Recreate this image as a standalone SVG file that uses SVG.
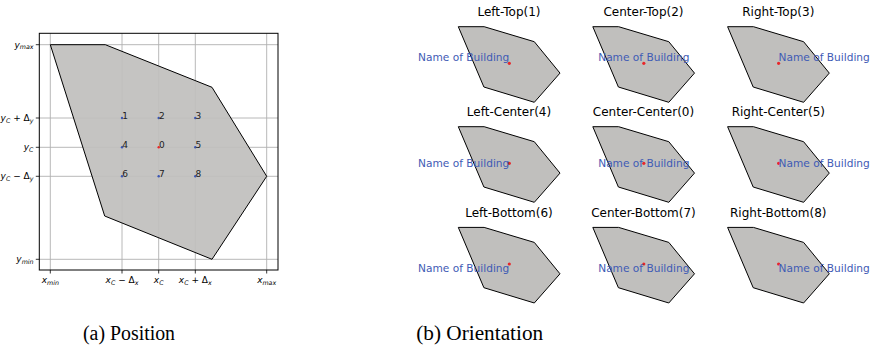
<svg xmlns="http://www.w3.org/2000/svg" xmlns:xlink="http://www.w3.org/1999/xlink" width="874" height="351" viewBox="0 0 874 351">
<style>
.grid{stroke:#b0b0b0;stroke-width:0.9;fill:none}
.bld{fill:#c0bfbd;stroke:#000;stroke-width:1;stroke-linejoin:miter}
.tick{stroke:#000;stroke-width:0.8}
.math{font-family:"DejaVu Sans",sans-serif;font-style:italic;font-size:9px;fill:#000}
.num{font-family:"DejaVu Sans",sans-serif;font-size:9px;fill:#222}
.ttl{font-family:"DejaVu Sans",sans-serif;font-size:12px;fill:#000;text-anchor:middle}
.name{font-family:"DejaVu Sans",sans-serif;font-size:10.6px;fill:#3f5bb5}
.cap{font-family:"Liberation Serif",serif;font-size:20px;fill:#000;text-anchor:middle}
.bdot{fill:#3a55b4}
.rdot{fill:#e8262a}
</style>
<defs>
<polygon id="shape" class="bld" points="0,0 25.85,0 76,15 101.7,46.4 76,75.6 25.6,60.3"/>
</defs>
<rect width="874" height="351" fill="#fff"/>

<!-- (a) Position -->
<g id="position">
<g id="grid">
<line class="grid" x1="50.3" y1="33.3" x2="50.3" y2="270"/>
<line class="grid" x1="122" y1="33.3" x2="122" y2="270"/>
<line class="grid" x1="158.7" y1="33.3" x2="158.7" y2="270"/>
<line class="grid" x1="195.3" y1="33.3" x2="195.3" y2="270"/>
<line class="grid" x1="266.7" y1="33.3" x2="266.7" y2="270"/>
<line class="grid" x1="39.3" y1="44.7" x2="278" y2="44.7"/>
<line class="grid" x1="39.3" y1="118" x2="278" y2="118"/>
<line class="grid" x1="39.3" y1="147.3" x2="278" y2="147.3"/>
<line class="grid" x1="39.3" y1="176.3" x2="278" y2="176.3"/>
<line class="grid" x1="39.3" y1="259.3" x2="278" y2="259.3"/>
</g>
<g id="building">
<polygon class="bld" fill-opacity="0.92" points="50.3,44.7 105.3,44.7 212,87.3 266.7,176.3 212,259.3 104.7,216"/>
</g>
<rect x="39.3" y="33.3" width="238.7" height="236.7" fill="none" stroke="#000" stroke-width="1"/>
<g id="ticks">
<line class="tick" x1="35.8" y1="44.7" x2="39.3" y2="44.7"/>
<line class="tick" x1="35.8" y1="118" x2="39.3" y2="118"/>
<line class="tick" x1="35.8" y1="147.3" x2="39.3" y2="147.3"/>
<line class="tick" x1="35.8" y1="176.3" x2="39.3" y2="176.3"/>
<line class="tick" x1="35.8" y1="259.3" x2="39.3" y2="259.3"/>
<line class="tick" x1="50.3" y1="270" x2="50.3" y2="273.5"/>
<line class="tick" x1="122" y1="270" x2="122" y2="273.5"/>
<line class="tick" x1="158.7" y1="270" x2="158.7" y2="273.5"/>
<line class="tick" x1="195.3" y1="270" x2="195.3" y2="273.5"/>
<line class="tick" x1="266.7" y1="270" x2="266.7" y2="273.5"/>
</g>
<g id="ylabels" text-anchor="end">
<text class="math" x="33.5" y="47.5">y<tspan font-size="6.3" dy="1.8">max</tspan></text>
<text class="math" x="33.5" y="120.8">y<tspan font-size="6.3" dy="1.8">C</tspan><tspan dy="-1.8" font-style="normal"> + Δ</tspan><tspan font-size="6.3" dy="1.8">y</tspan></text>
<text class="math" x="33.5" y="150.1">y<tspan font-size="6.3" dy="1.8">C</tspan></text>
<text class="math" x="33.5" y="179.1">y<tspan font-size="6.3" dy="1.8">C</tspan><tspan dy="-1.8" font-style="normal"> − Δ</tspan><tspan font-size="6.3" dy="1.8">y</tspan></text>
<text class="math" x="33.5" y="262.1">y<tspan font-size="6.3" dy="1.8">min</tspan></text>
</g>
<g id="xlabels" text-anchor="middle">
<text class="math" x="50.3" y="283">x<tspan font-size="6.3" dy="1.8">min</tspan></text>
<text class="math" x="122" y="283">x<tspan font-size="6.3" dy="1.8">C</tspan><tspan dy="-1.8" font-style="normal"> − Δ</tspan><tspan font-size="6.3" dy="1.8">x</tspan></text>
<text class="math" x="158.7" y="283">x<tspan font-size="6.3" dy="1.8">C</tspan></text>
<text class="math" x="195.3" y="283">x<tspan font-size="6.3" dy="1.8">C</tspan><tspan dy="-1.8" font-style="normal"> + Δ</tspan><tspan font-size="6.3" dy="1.8">x</tspan></text>
<text class="math" x="266.7" y="283">x<tspan font-size="6.3" dy="1.8">max</tspan></text>
</g>
<g id="points">
<circle class="bdot" cx="122" cy="118" r="1.2"/><text class="num" x="122.3" y="118.6">1</text>
<circle class="bdot" cx="158.7" cy="118" r="1.2"/><text class="num" x="159" y="118.6">2</text>
<circle class="bdot" cx="195.3" cy="118" r="1.2"/><text class="num" x="195.6" y="118.6">3</text>
<circle class="bdot" cx="122" cy="147.3" r="1.2"/><text class="num" x="122.3" y="147.9">4</text>
<circle class="rdot" cx="158.7" cy="147.3" r="1.2"/><text class="num" x="159" y="147.9">0</text>
<circle class="bdot" cx="195.3" cy="147.3" r="1.2"/><text class="num" x="195.6" y="147.9">5</text>
<circle class="bdot" cx="122" cy="176.3" r="1.2"/><text class="num" x="122.3" y="176.9">6</text>
<circle class="bdot" cx="158.7" cy="176.3" r="1.2"/><text class="num" x="159" y="176.9">7</text>
<circle class="bdot" cx="195.3" cy="176.3" r="1.2"/><text class="num" x="195.6" y="176.9">8</text>
</g>
<text class="cap" x="129" y="339.5" textLength="92" lengthAdjust="spacingAndGlyphs">(a) Position</text>
</g>

<!-- (b) Orientation -->
<g id="cell-1">
<text class="ttl" x="509" y="16">Left-Top(1)</text>
<use href="#shape" x="458.3" y="26.7"/>
<circle class="rdot" cx="509.3" cy="63.3" r="1.6"/>
<text class="name" x="509.3" y="60.8" text-anchor="end">Name of Building</text>
</g>
<g id="cell-2">
<text class="ttl" x="643.5" y="16">Center-Top(2)</text>
<use href="#shape" x="592.8" y="26.7"/>
<circle class="rdot" cx="643.8" cy="63.3" r="1.6"/>
<text class="name" x="643.8" y="60.8" text-anchor="middle">Name of Building</text>
</g>
<g id="cell-3">
<text class="ttl" x="778.3" y="16">Right-Top(3)</text>
<use href="#shape" x="727.6" y="26.7"/>
<circle class="rdot" cx="778.6" cy="63.3" r="1.6"/>
<text class="name" x="778.6" y="60.8" text-anchor="start">Name of Building</text>
</g>

<g id="cell-4">
<text class="ttl" x="509" y="116.3">Left-Center(4)</text>
<use href="#shape" x="458.3" y="126.7"/>
<circle class="rdot" cx="509.3" cy="163.3" r="1.6"/>
<text class="name" x="509.3" y="166.9" text-anchor="end">Name of Building</text>
</g>
<g id="cell-0">
<text class="ttl" x="643.5" y="116.3">Center-Center(0)</text>
<use href="#shape" x="592.8" y="126.7"/>
<circle class="rdot" cx="643.8" cy="163.3" r="1.6"/>
<text class="name" x="643.8" y="166.9" text-anchor="middle">Name of Building</text>
</g>
<g id="cell-5">
<text class="ttl" x="778.3" y="116.3">Right-Center(5)</text>
<use href="#shape" x="727.6" y="126.7"/>
<circle class="rdot" cx="778.6" cy="163.3" r="1.6"/>
<text class="name" x="778.6" y="166.9" text-anchor="start">Name of Building</text>
</g>

<g id="cell-6">
<text class="ttl" x="509" y="217">Left-Bottom(6)</text>
<use href="#shape" x="458.3" y="227.4"/>
<circle class="rdot" cx="509.3" cy="264" r="1.6"/>
<text class="name" x="509.3" y="272.3" text-anchor="end">Name of Building</text>
</g>
<g id="cell-7">
<text class="ttl" x="643.5" y="217">Center-Bottom(7)</text>
<use href="#shape" x="592.8" y="227.4"/>
<circle class="rdot" cx="643.8" cy="264" r="1.6"/>
<text class="name" x="643.8" y="272.3" text-anchor="middle">Name of Building</text>
</g>
<g id="cell-8">
<text class="ttl" x="778.3" y="217">Right-Bottom(8)</text>
<use href="#shape" x="727.6" y="227.4"/>
<circle class="rdot" cx="778.6" cy="264" r="1.6"/>
<text class="name" x="778.6" y="272.3" text-anchor="start">Name of Building</text>
</g>

<g id="connectors"/>
<text class="cap" x="479.7" y="339.5" textLength="127" lengthAdjust="spacingAndGlyphs">(b) Orientation</text>
</svg>
